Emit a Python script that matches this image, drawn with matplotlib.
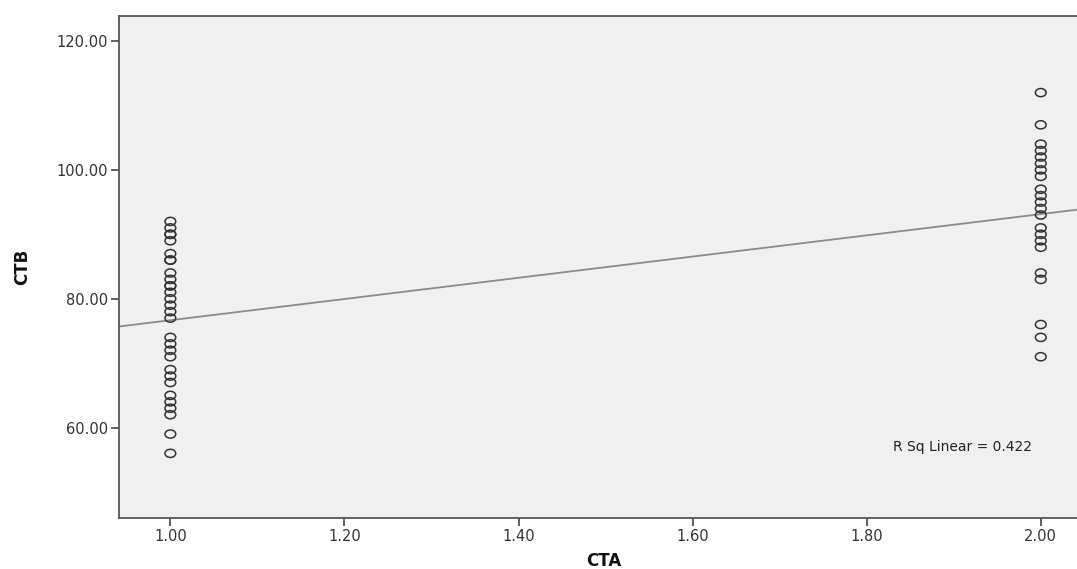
import numpy as np
import matplotlib
matplotlib.use("Agg")
import matplotlib.pyplot as plt
from matplotlib.path import Path
from matplotlib.transforms import Affine2D

# Data (overlapping duplicates included)
cta_group1 = 1.0
ctb_group1 = [92, 91, 90, 90, 89, 87, 86, 86, 84, 83, 82, 82, 81, 80, 79, 78, 77,
              74, 73, 72, 71, 69, 68, 67, 65, 64, 63, 62, 59, 56]
cta_group2 = 2.0
ctb_group2 = [112, 107, 104, 103, 102, 101, 100, 99, 97, 96, 95, 94, 93,
              91, 90, 89, 88, 84, 83, 76, 74, 71]
x_ticks = [1.0, 1.2, 1.4, 1.6, 1.8, 2.0]
y_ticks = [60, 80, 100, 120]
r_sq_text = "R Sq Linear = 0.422"

x = np.array([cta_group1] * len(ctb_group1) + [cta_group2] * len(ctb_group2))
y = np.array(ctb_group1 + ctb_group2, dtype=float)

plt.rcParams['font.family'] = ['DejaVu Sans']

fig = plt.figure(figsize=(10.77, 5.69), dpi=100)
ax = fig.add_axes([0.1105, 0.090, 0.8895 + 0.01, 0.882])
ax.set_facecolor('#F0F0F0')

xmin, xmax = 0.941, 2.054
ax.set_xlim(xmin, xmax)
ax.set_ylim(46.0, 123.9)

ellipse = Path.unit_circle().transformed(Affine2D().scale(1.25, 0.95))
ax.scatter(x, y, s=60, marker=ellipse, facecolors='none', edgecolors='#333333',
           linewidths=1.1, zorder=3)

slope, intercept = np.polyfit(x, y, 1)
xs = np.array([xmin, xmax])
ax.plot(xs, intercept + slope * xs, color='#8a8a8a', lw=1.3, zorder=2)

ax.text(1.91, 57.0, r_sq_text, ha='center', va='center', fontsize=10, color='#222222')

ax.set_xticks(x_ticks)
ax.set_xticklabels([f"{v:.2f}" for v in x_ticks])
ax.set_yticks(y_ticks)
ax.set_yticklabels([f"{v:.2f}" for v in y_ticks])
ax.tick_params(axis='both', direction='out', length=6, width=1.2, color='#444444',
               labelsize=10.5, labelcolor='#333333', pad=2)

for side in ['left', 'bottom', 'top']:
    ax.spines[side].set_color('#555555')
    ax.spines[side].set_linewidth(1.3)
ax.spines['right'].set_visible(False)

ax.set_xlabel('CTA', fontsize=12, fontweight='bold', labelpad=6, color='#111111')
ax.set_ylabel('CTB', fontsize=12, fontweight='bold', labelpad=18, color='#111111')

fig.savefig('out.png', dpi=100, facecolor='white')
